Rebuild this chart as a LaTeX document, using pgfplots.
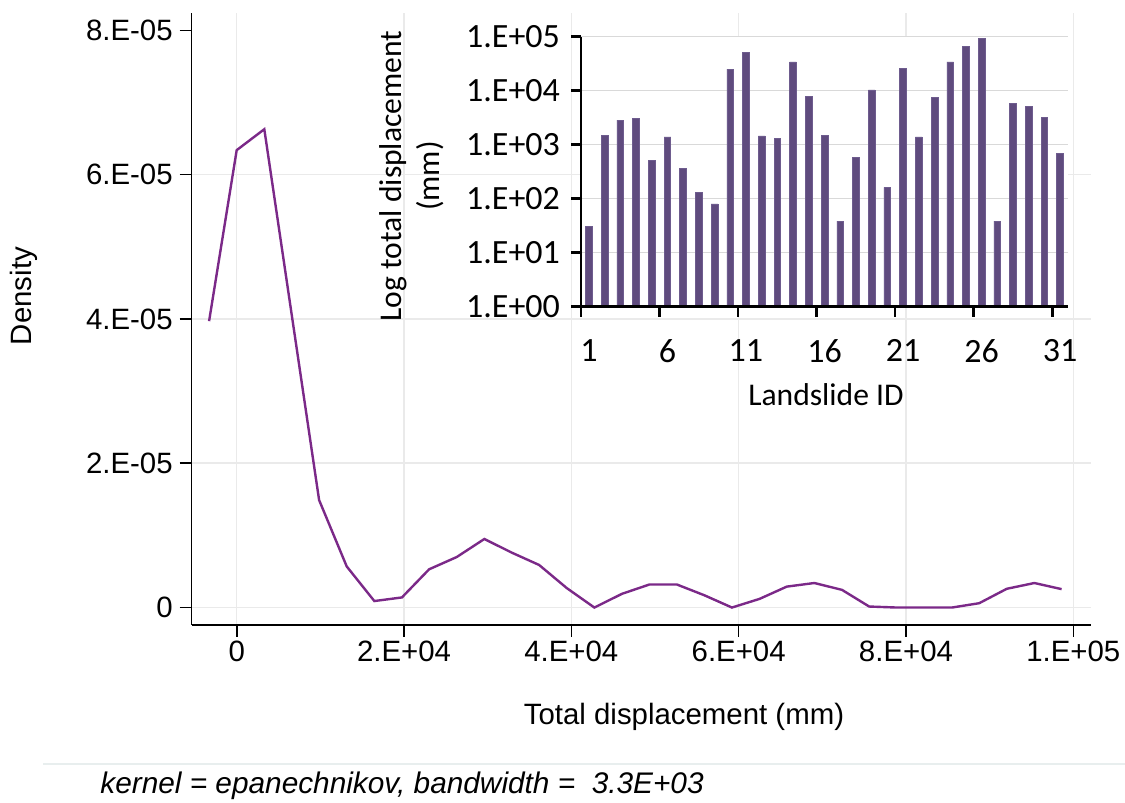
\documentclass[border=0pt]{standalone}
\usepackage{fontspec}
\setmainfont{Liberation Sans}
\newfontfamily\calibri{Carlito}
\usepackage{pgfplots}
\pgfplotsset{compat=1.18}
\definecolor{kline}{RGB}{123,41,136}
\definecolor{kbar}{RGB}{95,75,126}
\definecolor{kbard}{RGB}{110,92,142}
\definecolor{kgrid}{RGB}{234,234,234}
\definecolor{igrid}{RGB}{217,217,217}
\definecolor{sepline}{RGB}{232,238,238}
\begin{document}
\begin{tikzpicture}[x=1pt,y=1pt]
\useasboundingbox (0,0) rectangle (562.5,401.5);
% main density axis
\begin{axis}[
  at={(95.85pt,89pt)}, anchor=south west,
  scale only axis, width=449.5pt, height=305.85pt,
  xmin=-5.379, xmax=102.08, ymin=-0.242, ymax=8.237,
  axis x line*=bottom, axis y line*=left,
  axis line style={black, line width=0.8pt, -},
  tick align=outside, major tick length=6pt,
  tick style={black, line width=0.8pt},
  scaled x ticks=false, scaled y ticks=false,
  /pgf/number format/assume math mode=true,
  xtick={0,20,40,60,80,100},
  xticklabels={0,2.E+04,4.E+04,6.E+04,8.E+04,1.E+05},
  xticklabel style={yshift=1.5pt},
  ytick={0,2,4,6},
  yticklabels={0,2.E-05,4.E-05,6.E-05},
  extra y ticks={8}, extra y tick labels={8.E-05},
  extra y tick style={grid=none},
  xmajorgrids, ymajorgrids,
  major grid style={kgrid, line width=0.75pt},
  ticklabel style={font=\fontsize{14.7}{17}\selectfont},
  xlabel={Total displacement (mm)},
  xlabel style={at={(axis description cs:0.5476,-0.1623)}, anchor=base, font=\fontsize{14.7}{17}\selectfont},
  ylabel={Density},
  ylabel style={at={(axis description cs:-0.1867,0.5378)}, anchor=center, font=\fontsize{14.7}{17}\selectfont},
]
\addplot[kline, line width=1.2pt, mark=none] coordinates {
(-3.3,3.97) (0,6.34) (3.3,6.63) (6.6,4.04) (9.85,1.49) (13.15,0.57)
(16.45,0.09) (19.75,0.14) (23.0,0.53) (26.3,0.70) (29.6,0.95) (32.9,0.76)
(36.15,0.59) (39.45,0.27) (42.75,0.0) (46.05,0.19) (49.35,0.32) (52.6,0.32)
(55.9,0.17) (59.2,0.0) (62.5,0.12) (65.75,0.29) (69.05,0.34) (72.35,0.245)
(75.6,0.014) (78.9,0.0) (82.2,0.0) (85.5,0.0) (88.75,0.06) (92.05,0.26)
(95.35,0.34) (98.6,0.255)
};
\end{axis}
% inset bar chart
\begin{axis}[
  at={(290.5pt,248.15pt)}, anchor=south west,
  scale only axis, width=243.5pt, height=135pt,
  ymode=log, ymin=1, ymax=1e5, xmin=0.5, xmax=31.5,
  axis x line*=bottom, axis y line*=left,
  axis line style={black, line width=1.3pt, -},
  axis background/.style={fill=white},
  ybar, bar width=3.35pt,
  tick align=outside, major tick length=5pt,
  tick style={black, line width=1.3pt},
  yminorticks=false,
  xtick={0.5,5.5,10.5,15.5,20.5,25.5,30.5},
  xticklabels={1,6,11,16,21,26,31},
  xticklabel style={xshift=3.935pt, yshift=-8pt},
  ytick={1,10,100,1000,10000,100000},
  yticklabels={1.E+00,1.E+01,1.E+02,1.E+03,1.E+04,1.E+05},
  yticklabel style={xshift=-2pt},
  ymajorgrids,
  major grid style={igrid, line width=0.75pt},
  ticklabel style={font=\calibri\fontsize{17}{20}\selectfont},
  xlabel={Landslide ID},
  xlabel style={at={(axis description cs:0.503,-0.327)}, anchor=center, font=\calibri\fontsize{15.8}{19}\selectfont},
  ylabel={Log total displacement\\(mm)},
  ylabel style={at={(axis description cs:-0.347,0.484)}, anchor=center, align=center, font=\calibri\fontsize{15.8}{19}\selectfont},
]
\addplot[fill=kbar, draw=kbard, line width=0.3pt] coordinates {
(1,31) (2,1490) (3,2860) (4,3120) (5,520) (6,1390) (7,370) (8,133) (9,80)
(10,25200) (11,52000) (12,1450) (13,1330) (14,34000) (15,7950) (16,1510)
(17,38.6) (18,591) (19,10300) (20,162) (21,26300) (22,1390) (23,7640)
(24,34000) (25,67100) (26,94500) (27,38.6) (28,5820) (29,5200) (30,3250) (31,701)
};
\draw[black, line width=1.3pt] (rel axis cs:0,0) -- (rel axis cs:1,0);
\end{axis}
\draw[sepline, line width=0.6pt] (21.5,19.5) -- (562.5,19.5);
\node[anchor=base west, inner sep=0pt, font=\itshape\fontsize{14.9}{17}\selectfont] at (50,4.5) {kernel = epanechnikov, bandwidth =\ \ 3.3E+03};
\end{tikzpicture}
\end{document}
